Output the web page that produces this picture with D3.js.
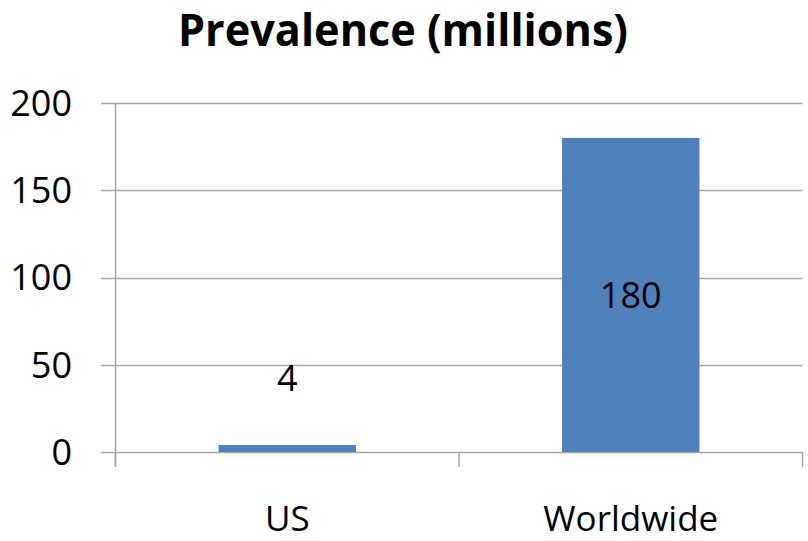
<!DOCTYPE html>
<html>
<head>
<meta charset="utf-8">
<script src="https://cdn.jsdelivr.net/npm/d3@7"></script>
<style>
html,body{margin:0;padding:0;background:#fff;}
svg{display:block;}
text{font-family:"Open Sans",sans-serif;fill:#000;}
</style>
</head>
<body>
<svg id="chart" width="808" height="541"></svg>
<script>
const title = "Prevalence (millions)";
const categories = ["US", "Worldwide"];
const values = [4, 180];
const yTicks = [0, 50, 100, 150, 200];

const svg = d3.select("#chart");
const x0 = 115.5, x1 = 802.5, y0 = 452, y1 = 103;

const x = d3.scaleBand().domain(categories).range([x0, x1]).paddingInner(0.6).paddingOuter(0.3);
const y = d3.scaleLinear().domain([0, 200]).range([y0, y1]);

// gridlines
svg.append("g").selectAll("line").data(yTicks).join("line")
  .attr("x1", 101).attr("x2", x1)
  .attr("y1", d => Math.round(y(d)) + 0.5).attr("y2", d => Math.round(y(d)) + 0.5)
  .attr("stroke", "#a6a6a6").attr("stroke-width", 1.5);

// y axis line
svg.append("line").attr("x1", x0).attr("x2", x0).attr("y1", y1).attr("y2", 467)
  .attr("stroke", "#a6a6a6").attr("stroke-width", 1.5);

// category ticks
const catBounds = [x0, (x0 + x1) / 2, x1];
svg.append("g").selectAll("line").data(catBounds).join("line")
  .attr("x1", d => d).attr("x2", d => d).attr("y1", y0).attr("y2", 467)
  .attr("stroke", "#a6a6a6").attr("stroke-width", 1.5);

// y tick labels
svg.append("g").selectAll("text").data(yTicks).join("text")
  .attr("x", 72).attr("y", d => y(d))
  .attr("dy", "0.36em").attr("text-anchor", "end")
  .attr("font-size", 36).attr("fill", "#1a1a1a")
  .text(d => d);

// bars
svg.append("g").selectAll("rect").data(values).join("rect")
  .attr("x", (d, i) => x(categories[i]))
  .attr("width", x.bandwidth())
  .attr("y", d => y(d))
  .attr("height", d => y0 - y(d))
  .attr("fill", "#4f81bd");

// value labels
svg.append("g").selectAll("text").data(values).join("text")
  .attr("x", (d, i) => x(categories[i]) + x.bandwidth() / 2)
  .attr("y", d => (y0 - y(d)) > 60 ? (y(d) + y0) / 2 + 13 : 391)
  .attr("text-anchor", "middle").attr("font-size", 36).attr("fill", "#1a1a1a")
  .text(d => d);

// category labels
svg.append("g").selectAll("text").data(categories).join("text")
  .attr("x", d => x(d) + x.bandwidth() / 2)
  .attr("y", 531)
  .attr("text-anchor", "middle").attr("font-size", 35).attr("fill", "#1a1a1a")
  .text(d => d);

// title
svg.append("text").attr("x", 403).attr("y", 46)
  .attr("text-anchor", "middle").attr("font-size", 44).attr("font-weight", "bold")
  .attr("textLength", 450).attr("lengthAdjust", "spacingAndGlyphs")
  .text(title);
</script>
</body>
</html>
